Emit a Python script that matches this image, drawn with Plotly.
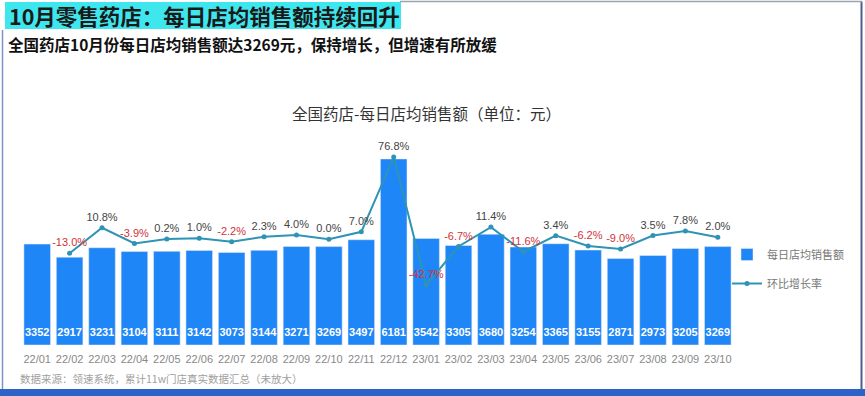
import plotly.graph_objects as go

months = ["22/01", "22/02", "22/03", "22/04", "22/05", "22/06", "22/07", "22/08", "22/09", "22/10", "22/11",
          "22/12", "23/01", "23/02", "23/03", "23/04", "23/05", "23/06", "23/07", "23/08", "23/09", "23/10"]
sales = [3352, 2917, 3231, 3104, 3111, 3142, 3073, 3144, 3271, 3269, 3497,
         6181, 3542, 3305, 3680, 3254, 3365, 3155, 2871, 2973, 3205, 3269]
growth = [None, -13.0, 10.8, -3.9, 0.2, 1.0, -2.2, 2.3, 4.0, 0.0, 7.0,
          76.8, -42.7, -6.7, 11.4, -11.6, 3.4, -6.2, -9.0, 3.5, 7.8, 2.0]

W, H = 865, 396
ML, MR, MT, MB = 21, 131, 135, 51
PW, PH = W - ML - MR, H - MT - MB

def px(x):
    return (x - ML) / PW

def py(y):
    return (H - MB - y) / PH

FONT = "Liberation Sans, Noto Sans CJK SC, sans-serif"
BAR = "#1f86f7"
LINE = "#2e93b5"

g_text = ["" if v is None else f"{v:.1f}%" for v in growth]
g_col = ["#444444" if (v is not None and v >= 0) else "#d0333a" for v in growth]

fig = go.Figure()
fig.add_trace(go.Bar(
    x=months, y=sales, name="每日店均销售额", marker_color=BAR, legendgroup="a",
))
fig.add_trace(go.Scatter(
    x=months, y=[0] * len(months), mode="markers+text", showlegend=False, hoverinfo="skip",
    marker=dict(size=9, opacity=0),
    text=[str(v) for v in sales], textposition="top center", cliponaxis=False,
    textfont=dict(color="white", size=11, family=FONT, weight="bold"),
))
fig.add_trace(go.Scatter(
    x=months, y=growth, name="环比增长率", yaxis="y2", mode="lines+markers+text", legendgroup="b",
    line=dict(color=LINE, width=2), marker=dict(color=LINE, size=5),
    text=g_text, textposition="top center", cliponaxis=False,
    textfont=dict(color=g_col, size=11, family=FONT),
))

fig.update_layout(
    width=W, height=H, margin=dict(l=ML, r=MR, t=MT, b=MB, autoexpand=False),
    paper_bgcolor="white", plot_bgcolor="white",
    bargap=0.18,
    font=dict(family=FONT),
    xaxis=dict(range=[-0.5, len(months) - 0.5], showgrid=False, zeroline=False, showline=False, ticks="",
               tickangle=0, automargin=False, ticklabelstandoff=6, tickfont=dict(size=11, color="#888888")),
    yaxis=dict(range=[0, PH / 0.0301], visible=False, automargin=False),
    yaxis2=dict(range=[-105.7 / 1.07, (239.3 - MT) / 1.07], overlaying="y", visible=False),
    legend=dict(xref="container", yref="container", x=727 / W, y=1 - 240 / H, xanchor="left", yanchor="top",
                font=dict(size=11, color="#777777"), tracegroupgap=10, bgcolor="rgba(0,0,0,0)"),
    showlegend=True,
)

# frame
fig.add_shape(type="line", xref="paper", yref="paper", x0=px(2.5), x1=px(2.5), y0=py(30), y1=py(389),
              line=dict(color="#7d95c4", width=1.5))
fig.add_shape(type="line", xref="paper", yref="paper", x0=px(861.5), x1=px(861.5), y0=py(1.5), y1=py(389),
              line=dict(color="#4a5f8a", width=2))
fig.add_shape(type="line", xref="paper", yref="paper", x0=px(400), x1=px(862), y0=py(1.5), y1=py(1.5),
              line=dict(color="#9aa3b0", width=1.5))
fig.add_shape(type="rect", xref="paper", yref="paper", x0=px(0), x1=px(865), y0=py(389), y1=py(396),
              fillcolor="#2d62c8", line=dict(width=0))
fig.add_shape(type="rect", xref="paper", yref="paper", x0=px(5), x1=px(401), y0=py(2), y1=py(29),
              fillcolor="#3ee6ee", line=dict(width=0), layer="below")

fig.add_annotation(xref="paper", yref="paper", x=px(7), y=py(15.5), xanchor="left", yanchor="middle",
                   text="<b>10月零售药店：每日店均销售额持续回升</b>", showarrow=False,
                   font=dict(size=21.5, color="#1a1a1a", family="Noto Sans CJK SC"))
fig.add_annotation(xref="paper", yref="paper", x=px(6), y=py(44), xanchor="left", yanchor="middle",
                   text="<b>全国药店10月份每日店均销售额达3269元，保持增长，但增速有所放缓</b>", showarrow=False,
                   font=dict(size=15.5, color="#111111", family="Noto Sans CJK SC"))
fig.add_annotation(xref="paper", yref="paper", x=px(426), y=py(113), xanchor="center", yanchor="middle",
                   text="全国药店-每日店均销售额（单位：元）", showarrow=False,
                   font=dict(size=15.5, color="#333333", family="Noto Sans CJK SC"))
fig.add_annotation(xref="paper", yref="paper", x=px(18), y=py(378), xanchor="left", yanchor="middle",
                   text="数据来源：领速系统，累计11w门店真实数据汇总（未放大）", showarrow=False,
                   font=dict(size=10.5, color="#a0a0a0", family="Noto Sans CJK SC"))

fig.write_html("out.html", config={"displayModeBar": False},
               post_script="document.body.style.margin='0';document.body.style.overflow='hidden';")
